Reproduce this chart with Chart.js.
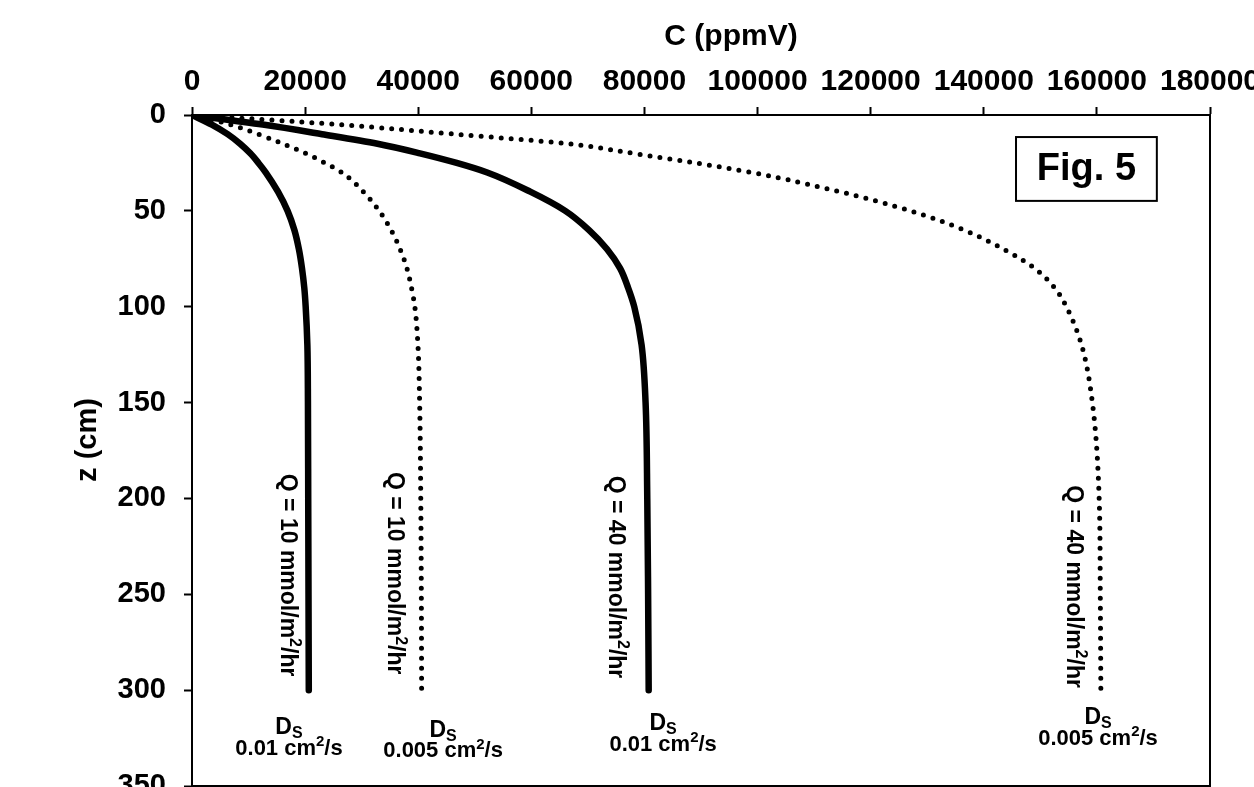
<!DOCTYPE html>
<html>
<head>
<meta charset="utf-8">
<script src="https://cdn.jsdelivr.net/npm/chart.js@4.4.1/dist/chart.umd.min.js"></script>
<style>
  html, body { margin: 0; padding: 0; background: #fff; overflow: hidden; }
  #wrap { width: 1254px; height: 787px; overflow: hidden; }
</style>
</head>
<body>
<div id="wrap"><canvas id="fig5" width="1254" height="830"></canvas></div>
<script>
// depth below surface (cm)
const depth = [0, 5, 10, 15, 20, 25, 30, 40, 50, 60, 70, 80, 90, 100, 120, 150, 200, 250, 300];

// C (ppmV) for each case
const cQ10D01  = [0, 3500, 6300, 8500, 10300, 11750, 13050, 15200, 16900, 18100, 18900, 19450, 19850, 20100, 20400, 20500, 20550, 20600, 20650];
const cQ10D005 = [0, 6800, 11700, 16100, 20100, 23500, 26500, 30300, 33100, 35200, 36800, 38000, 38800, 39400, 39950, 40250, 40450, 40550, 40600];
const cQ40D01  = [0, 12500, 23000, 32800, 40300, 46800, 52200, 59800, 66000, 70200, 73400, 75700, 77100, 78200, 79500, 80200, 80500, 80650, 80750];
const cQ40D005 = [0, 26000, 46500, 66500, 78000, 89000, 99000, 114500, 127000, 136500, 143500, 149000, 152500, 154600, 157300, 159200, 160400, 160600, 160700];

const xTicks = [0, 20000, 40000, 60000, 80000, 100000, 120000, 140000, 160000, 180000];
const yTicks = [0, 50, 100, 150, 200, 250, 300, 350];

// annotation text
const qText  = ['10', '10', '40', '40'];
const dsText = ['0.01', '0.005', '0.01', '0.005'];

// where the annotations sit, in data units [C, z]
const qPos  = [[16800, 240], [35700, 239], [74800, 241], [155800, 246]];
const dsPos = [[17150, 319.5], [44400, 321], [83300, 317.5], [160200, 314.5]];
const figBox = [145700, 11.5, 170600, 44.8];

const FONT = '"Liberation Sans", Arial, sans-serif';

function pts(cs) {
  return cs.map((c, i) => ({x: c, y: depth[i]}));
}

// draws a line of text centred on 0,0 with a raised or lowered small piece in the middle
function drawMixed(ctx, a, small, b, size, shift) {
  const big = 'bold ' + size + 'px ' + FONT;
  const little = 'bold ' + Math.round(size * 0.68) + 'px ' + FONT;
  ctx.font = big;
  const wa = ctx.measureText(a).width;
  const wb = ctx.measureText(b).width;
  ctx.font = little;
  const ws = ctx.measureText(small).width;
  let x = -(wa + ws + wb) / 2;
  ctx.textAlign = 'left';
  ctx.textBaseline = 'middle';
  ctx.font = big;
  ctx.fillText(a, x, 0);
  x += wa;
  ctx.font = little;
  ctx.fillText(small, x, shift);
  x += ws;
  ctx.font = big;
  ctx.fillText(b, x, 0);
}

const figLabels = {
  id: 'figLabels',
  afterDraw(chart) {
    const ctx = chart.ctx;
    const a = chart.chartArea;
    const xs = chart.scales.x, ys = chart.scales.y;
    ctx.save();
    ctx.strokeStyle = '#000';
    ctx.fillStyle = '#000';
    ctx.lineWidth = 2;
    ctx.strokeRect(a.left, a.top, a.right - a.left, a.bottom - a.top);

    // axis titles
    ctx.font = 'bold 30px ' + FONT;
    ctx.textAlign = 'center';
    ctx.textBaseline = 'middle';
    ctx.fillText('C (ppmV)', 731, 37);
    ctx.font = 'bold 29px ' + FONT;
    ctx.save();
    ctx.translate(88, 440);
    ctx.rotate(-Math.PI / 2);
    ctx.fillText('z (cm)', 0, 0);
    ctx.restore();

    // Q labels, vertical
    qText.forEach((q, i) => {
      ctx.save();
      ctx.translate(xs.getPixelForValue(qPos[i][0]), ys.getPixelForValue(qPos[i][1]));
      ctx.rotate(Math.PI / 2);
      drawMixed(ctx, 'Q = ' + q + ' mmol/m', '2', '/hr', 23, -7);
      ctx.restore();
    });

    // Ds labels
    dsText.forEach((d, i) => {
      ctx.save();
      ctx.translate(xs.getPixelForValue(dsPos[i][0]), ys.getPixelForValue(dsPos[i][1]));
      drawMixed(ctx, 'D', 'S', '', 23, 6);
      ctx.translate(0, 21);
      drawMixed(ctx, d + ' cm', '2', '/s', 22, -7);
      ctx.restore();
    });

    // Fig. 5 box
    const bx0 = xs.getPixelForValue(figBox[0]), by0 = ys.getPixelForValue(figBox[1]);
    const bx1 = xs.getPixelForValue(figBox[2]), by1 = ys.getPixelForValue(figBox[3]);
    ctx.fillStyle = '#fff';
    ctx.fillRect(bx0, by0, bx1 - bx0, by1 - by0);
    ctx.strokeRect(bx0, by0, bx1 - bx0, by1 - by0);
    ctx.fillStyle = '#000';
    ctx.font = 'bold 38px ' + FONT;
    ctx.textAlign = 'center';
    ctx.textBaseline = 'middle';
    ctx.fillText('Fig. 5', (bx0 + bx1) / 2, (by0 + by1) / 2 + 1);
    ctx.restore();
  }
};

const solid = {borderColor: '#000', borderWidth: 6.5, borderCapStyle: 'round', pointRadius: 0, fill: false, cubicInterpolationMode: 'monotone'};
const dotted = {borderColor: '#000', borderWidth: 5, borderDash: [0, 10], borderCapStyle: 'round', pointRadius: 0, fill: false, cubicInterpolationMode: 'monotone'};

const ctx = document.getElementById('fig5').getContext('2d');
const fig5 = new Chart(ctx, {
  type: 'line',
  data: {
    datasets: [
      Object.assign({label: 'Q=10, Ds=0.01', data: pts(cQ10D01)}, solid),
      Object.assign({label: 'Q=10, Ds=0.005', data: pts(cQ10D005)}, dotted),
      Object.assign({label: 'Q=40, Ds=0.01', data: pts(cQ40D01)}, solid),
      Object.assign({label: 'Q=40, Ds=0.005', data: pts(cQ40D005)}, dotted)
    ]
  },
  options: {
    indexAxis: 'y',
    responsive: false,
    animation: false,
    devicePixelRatio: 1,
    layout: { padding: {left: 0, top: 0, right: 44, bottom: 44}, autoPadding: false },
    plugins: { legend: {display: false}, tooltip: {enabled: false} },
    scales: {
      x: {
        type: 'linear',
        position: 'top',
        min: 0,
        max: 180000,
        afterBuildTicks: s => { s.ticks = xTicks.map(v => ({value: v})); },
        afterFit: s => { s.height = 115; s.paddingLeft = 0; s.paddingRight = 0; },
        ticks: {
          autoSkip: false, maxRotation: 0, padding: 7, color: '#000',
          font: {family: FONT, size: 30, weight: 'bold'},
          callback: v => String(v)
        },
        grid: {drawOnChartArea: false, drawTicks: true, tickLength: 8, tickWidth: 2, tickColor: '#000'},
        border: {display: true, color: '#000', width: 2}
      },
      y: {
        type: 'linear',
        position: 'left',
        reverse: true,
        min: 0,
        max: 350,
        afterBuildTicks: s => { s.ticks = yTicks.map(v => ({value: v})); },
        afterFit: s => { s.width = 192; s.paddingTop = 0; s.paddingBottom = 0; },
        ticks: {
          autoSkip: false, padding: 18, color: '#000',
          font: {family: FONT, size: 29, weight: 'bold'},
          callback: v => String(v)
        },
        grid: {drawOnChartArea: false, drawTicks: true, tickLength: 8, tickWidth: 2, tickColor: '#000'},
        border: {display: true, color: '#000', width: 2}
      }
    }
  },
  plugins: [figLabels]
});
</script>
</body>
</html>
